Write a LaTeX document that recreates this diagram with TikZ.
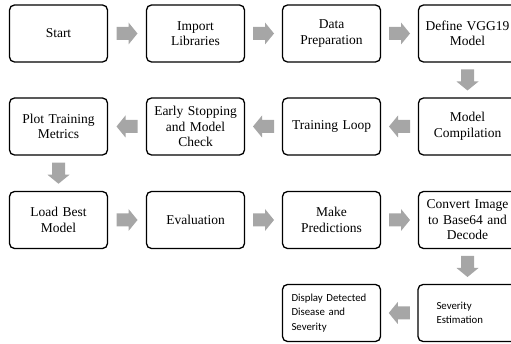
\documentclass[tikz,border=0pt]{standalone}
\usepackage{fontspec}
\setmainfont{Liberation Serif}
\newfontfamily\calib{Carlito}
\usetikzlibrary{calc}
\definecolor{arrowgray}{HTML}{A6A6A6}
\tikzset{
  stepbox/.style={draw=black, line width=1.3pt, rounded corners=5pt,
    minimum width=98pt, minimum height=57pt, text width=94pt, inner sep=2pt,
    align=center, font=\fontsize{13.5}{15.5}\selectfont},
  sansbox/.style={stepbox, align=left, font=\calib\fontsize{10.8}{14.5}\selectfont},
  barrow/.pic={\fill[arrowgray] (-10.5,-6.5) -- (1.5,-6.5) -- (1.5,-11) -- (10.5,0) -- (1.5,11) -- (1.5,6.5) -- (-10.5,6.5) -- cycle;}
}
\begin{document}
\begin{tikzpicture}[x=1pt,y=1pt]
\useasboundingbox (0,0) rectangle (511,-344);
\clip (0,0) rectangle (511,-344);
% row 1
\node[stepbox] (start) at (58.5,-33.5) {Start};
\node[stepbox] (imp) at (195.5,-33.5) {Import\\Libraries};
\node[stepbox] (data) at (331.5,-33.5) {Data\\Preparation};
\node[stepbox] (vgg) at (467.5,-33.5) {Define VGG19\\Model};
% row 2
\node[stepbox] (comp) at (467.5,-126.5) {Model\\Compilation};
\node[stepbox] (loop) at (331.5,-126.5) {Training Loop};
\node[stepbox] (early) at (195.5,-126.5) {Early Stopping\\and Model\\Check};
\node[stepbox] (plot) at (58.5,-126.5) {Plot Training\\Metrics};
% row 3
\node[stepbox] (load) at (58.5,-220) {Load Best\\Model};
\node[stepbox] (eval) at (195.5,-220) {Evaluation};
\node[stepbox] (pred) at (331.5,-220) {Make\\Predictions};
\node[stepbox] (conv) at (467.5,-220) {Convert Image\\to Base64 and\\Decode};
% row 4
\node[sansbox, text width=62pt, inner xsep=18.5pt] (sev) at (467.5,-313) {Severity\\Estimation};
\node[sansbox, text width=80pt, inner xsep=9pt] (disp) at (331.5,-313) {Display Detected\\Disease and\\Severity};
% arrows
\pic at ($(start.east)!0.5!(imp.west)$) {barrow};
\pic at ($(imp.east)!0.5!(data.west)$) {barrow};
\pic at ($(data.east)!0.5!(vgg.west)$) {barrow};
\pic[rotate=-90] at ($(vgg.south)!0.5!(comp.north)$) {barrow};
\pic[rotate=180] at ($(comp.west)!0.5!(loop.east)$) {barrow};
\pic[rotate=180] at ($(loop.west)!0.5!(early.east)$) {barrow};
\pic[rotate=180] at ($(early.west)!0.5!(plot.east)$) {barrow};
\pic[rotate=-90] at ($(plot.south)!0.5!(load.north)$) {barrow};
\pic at ($(load.east)!0.5!(eval.west)$) {barrow};
\pic at ($(eval.east)!0.5!(pred.west)$) {barrow};
\pic at ($(pred.east)!0.5!(conv.west)$) {barrow};
\pic[rotate=-90] at ($(conv.south)!0.5!(sev.north)$) {barrow};
\pic[rotate=180] at ($(sev.west)!0.5!(disp.east)$) {barrow};
\end{tikzpicture}
\end{document}
